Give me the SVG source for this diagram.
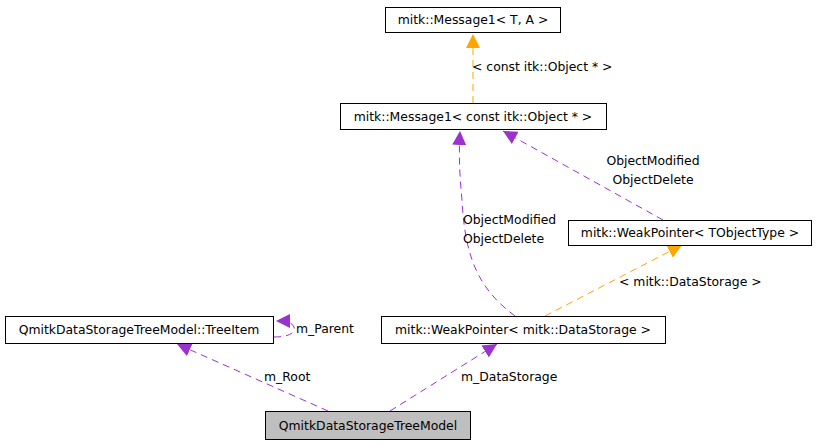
<svg xmlns="http://www.w3.org/2000/svg" width="816" height="445" viewBox="0 0 816 445">
<style>
text{font-family:"DejaVu Sans",sans-serif;font-size:12.4px;fill:#000}
.n{fill:#fff;stroke:#000;stroke-width:1}
.p{fill:none;stroke:#9a32cd;stroke-dasharray:7,5}
.o{fill:none;stroke:#ffa500;stroke-dasharray:7,5}
</style>
<defs>
<marker id="ap" viewBox="0 0 10 10" refX="10" refY="5" markerWidth="14" markerHeight="14" markerUnits="userSpaceOnUse" orient="auto"><path d="M0,0L10,5L0,10z" fill="#9a32cd"/></marker>
<marker id="ao" viewBox="0 0 10 10" refX="10" refY="5" markerWidth="14" markerHeight="14" markerUnits="userSpaceOnUse" orient="auto"><path d="M0,0L10,5L0,10z" fill="#ffa500"/></marker>
</defs>
<rect width="816" height="445" fill="#fff"/>
<g id="connectors">
<path class="o" d="M473,103L473,34" marker-end="url(#ao)"/>
<text x="472" y="71">&lt; const itk::Object * &gt;</text>
<path class="p" d="M515,316C480,290 465,260 462,200C459,170 459,150 460,131" marker-end="url(#ap)"/>
<text x="463" y="224">ObjectModified</text>
<text x="463" y="243">ObjectDelete</text>
<path class="p" d="M663,220L503,131" marker-end="url(#ap)"/>
<text x="653" y="165" text-anchor="middle">ObjectModified</text>
<text x="653" y="184" text-anchor="middle">ObjectDelete</text>
<path class="o" d="M545,316L682,245" marker-end="url(#ao)"/>
<text x="619" y="286">&lt; mitk::DataStorage &gt;</text>
<path class="p" d="M274,337C290,337 296,332 294,327C292,322 286,321 276,321" marker-end="url(#ap)"/>
<text x="296" y="333">m_Parent</text>
<path class="p" d="M328,411L177,344" marker-end="url(#ap)"/>
<text x="264" y="381">m_Root</text>
<path class="p" d="M390,411L497,344" marker-end="url(#ap)"/>
<text x="461" y="381">m_DataStorage</text>
</g>
<g id="msgTA"><rect class="n" x="385.5" y="7.5" width="175" height="25"/><text x="473" y="24" text-anchor="middle">mitk::Message1&lt; T, A &gt;</text></g>
<g id="msgConst"><rect class="n" x="340.5" y="103.5" width="266" height="26"/><text x="473" y="121" text-anchor="middle">mitk::Message1&lt; const itk::Object * &gt;</text></g>
<g id="wpT"><rect class="n" x="568.5" y="220.5" width="243" height="25"/><text x="690" y="237" text-anchor="middle">mitk::WeakPointer&lt; TObjectType &gt;</text></g>
<g id="treeItem"><rect class="n" x="5.5" y="316.5" width="268" height="27"/><text x="139" y="334" text-anchor="middle">QmitkDataStorageTreeModel::TreeItem</text></g>
<g id="wpDS"><rect class="n" x="381.5" y="316.5" width="284" height="27"/><text x="523" y="334" text-anchor="middle">mitk::WeakPointer&lt; mitk::DataStorage &gt;</text></g>
<g id="model"><rect class="n" x="265.5" y="411.5" width="205" height="28" style="fill:#bfbfbf"/><text x="368" y="430" text-anchor="middle">QmitkDataStorageTreeModel</text></g>
</svg>
